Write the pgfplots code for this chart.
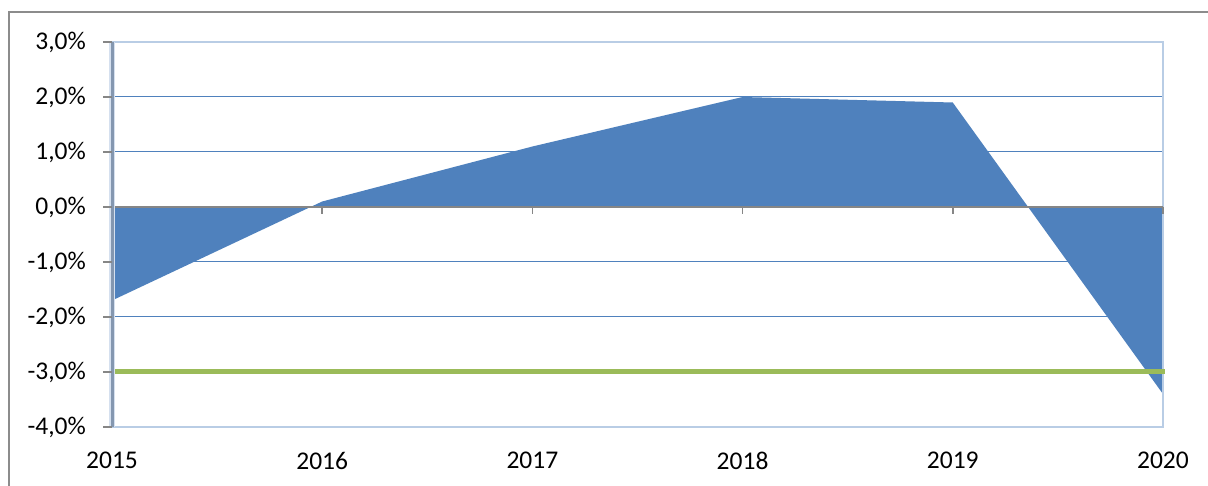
\documentclass[border=0pt]{standalone}
\usepackage{fontspec}
\setmainfont{Carlito}
\usepackage{pgfplots}
\pgfplotsset{compat=1.18}
\definecolor{areablue}{HTML}{4F81BD}
\definecolor{gridblue}{HTML}{4F81BD}
\definecolor{frameblue}{HTML}{B9CDE5}
\definecolor{lgreen}{HTML}{9BBB59}
\definecolor{axisgray}{HTML}{868686}
\definecolor{yaxis}{HTML}{8497B0}
\definecolor{glow}{HTML}{D5E0EF}
\begin{document}
\begin{tikzpicture}
\path[use as bounding box] (0pt,0pt) rectangle (1208pt,486pt);
\draw[color=gray!90, line width=1.5pt] (9pt,-5pt) -- (9pt,474pt) -- (1215pt,474pt);
\begin{axis}[
 at={(112pt,59pt)}, anchor=south west,
 scale only axis, width=1051pt, height=385pt,
 xmin=2015, xmax=2020, ymin=-4, ymax=3,
 axis line style={draw=none},
 xtick={2015,2016,2017,2018,2019,2020}, xticklabels={2015,2016,2017,2018,2019,2020},
 ytick={-4,-3,-2,-1,0,1,2,3},
 yticklabels={{-4,0\%},{-3,0\%},{-2,0\%},{-1,0\%},{0,0\%},{1,0\%},{2,0\%},{3,0\%}},
 ymajorgrids, grid style={gridblue, line width=1pt},
 tick align=outside, ytick pos=left, xtick pos=bottom,
 major tick length=9pt,
 ytick style={axisgray, line width=1.5pt},
 xtick style={draw=none},
 tick label style={font=\fontsize{25.5}{30}\selectfont, inner sep=0pt},
 yticklabel style={xshift=-17pt},
 xticklabel style={yshift=-16pt},
 clip=false,
]
\addplot[fill=areablue, draw=none] coordinates {(2015,-1.7)(2016,0.1)(2017,1.1)(2018,2.0)(2019,1.9)(2020,-3.4)} \closedcycle;
\draw[frameblue, line width=2pt] (rel axis cs:0,1) -- (rel axis cs:1,1) -- (rel axis cs:1,0) -- (rel axis cs:0,0);
\draw[axisgray, line width=1.5pt] (axis cs:2015,0) -- (axis cs:2020,0);
\pgfplotsinvokeforeach{2016,2017,2018,2019,2020}{
  \draw[axisgray, line width=1.5pt] (axis cs:#1,0) -- ++(0pt,-7pt);
}
\addplot[lgreen, line width=5pt] coordinates {(2015,-3)(2020.01,-3)};
\draw[glow, line width=6pt] (rel axis cs:0,0) -- (rel axis cs:0,1);
\draw[yaxis, line width=3pt] (rel axis cs:0,0) -- (rel axis cs:0,1);
\pgfplotsinvokeforeach{-4,-3,-2,-1,0,1,2,3}{
  \draw[axisgray, line width=1.5pt] (axis cs:2015,#1) -- ++(-9pt,0pt);
}
\end{axis}
\end{tikzpicture}
\end{document}
